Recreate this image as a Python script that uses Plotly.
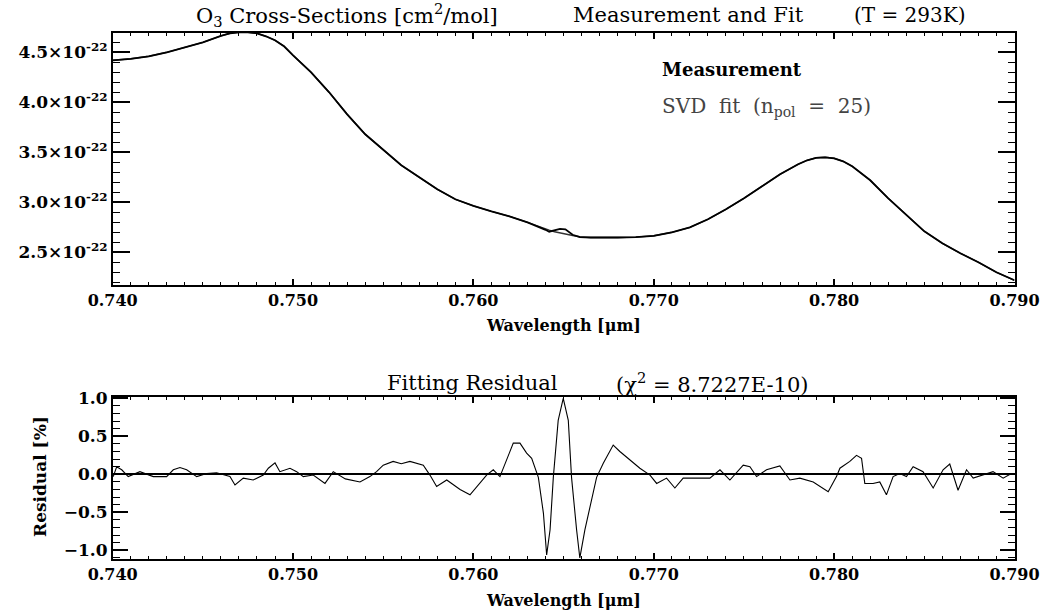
import plotly.graph_objects as go

# ---------------- data ----------------
# Upper panel: O3 cross-sections, in units of 1e-22 cm^2/mol
wavelength_um = [0.7400, 0.7410, 0.7420, 0.7430, 0.7440, 0.7450, 0.7460, 0.7465, 0.7470, 0.7475,
                 0.7480, 0.7485, 0.7490, 0.7495, 0.7500, 0.7510, 0.7520, 0.7530, 0.7540, 0.7550,
                 0.7560, 0.7570, 0.7580, 0.7590, 0.7600, 0.7610, 0.7620, 0.7630, 0.7635, 0.7640,
                 0.7642, 0.7645, 0.7648, 0.7651, 0.7655, 0.7659, 0.7665, 0.7680, 0.7690, 0.7700,
                 0.7710, 0.7720, 0.7730, 0.7740, 0.7750, 0.7760, 0.7770, 0.7780, 0.7785, 0.7790,
                 0.7795, 0.7800, 0.7805, 0.7810, 0.7820, 0.7830, 0.7840, 0.7850, 0.7860, 0.7870,
                 0.7880, 0.7890, 0.7900]
measurement_e22 = [4.420, 4.435, 4.460, 4.500, 4.550, 4.600, 4.665, 4.690, 4.700, 4.700,
                   4.690, 4.660, 4.620, 4.560, 4.470, 4.300, 4.100, 3.880, 3.680, 3.520,
                   3.370, 3.250, 3.130, 3.030, 2.965, 2.910, 2.860, 2.800, 2.765, 2.725,
                   2.706, 2.720, 2.735, 2.730, 2.675, 2.652, 2.648, 2.648, 2.652, 2.665,
                   2.700, 2.750, 2.830, 2.930, 3.040, 3.160, 3.280, 3.380, 3.420, 3.445,
                   3.450, 3.440, 3.410, 3.360, 3.220, 3.040, 2.870, 2.710, 2.590, 2.490,
                   2.400, 2.300, 2.220]
svd_fit_e22 = [4.420, 4.435, 4.460, 4.500, 4.550, 4.600, 4.665, 4.690, 4.700, 4.700,
               4.690, 4.660, 4.620, 4.560, 4.470, 4.300, 4.100, 3.880, 3.680, 3.520,
               3.370, 3.250, 3.130, 3.030, 2.965, 2.910, 2.860, 2.800, 2.765, 2.735,
               2.722, 2.705, 2.692, 2.680, 2.668, 2.655, 2.648, 2.648, 2.652, 2.665,
               2.700, 2.750, 2.830, 2.930, 3.040, 3.160, 3.280, 3.380, 3.420, 3.445,
               3.450, 3.440, 3.410, 3.360, 3.220, 3.040, 2.870, 2.710, 2.590, 2.490,
               2.400, 2.300, 2.220]
y_tick_suffix = "×10<sup>-22</sup>"

# Lower panel: fitting residual [%]
residual_wl_um = [0.74003, 0.74022, 0.74050, 0.74086, 0.74151, 0.74225, 0.74299, 0.74336, 0.74373, 0.74410,
                  0.74466, 0.74521, 0.74576, 0.74650, 0.74678, 0.74724, 0.74779, 0.74835, 0.74863, 0.74900,
                  0.74927, 0.74983, 0.75020, 0.75057, 0.75112, 0.75177, 0.75223, 0.75290, 0.75371, 0.75426,
                  0.75463, 0.75500, 0.75555, 0.75600, 0.75648, 0.75722, 0.75759, 0.75796, 0.75852, 0.75926,
                  0.75981, 0.76018, 0.76073, 0.76110, 0.76147, 0.76184, 0.76221, 0.76258, 0.76295, 0.76323,
                  0.76360, 0.76388, 0.76406, 0.76425, 0.76443, 0.76470, 0.76498, 0.76526, 0.76544, 0.76572,
                  0.76590, 0.76618, 0.76646, 0.76683, 0.76720, 0.76775, 0.76812, 0.76868, 0.76923, 0.76979,
                  0.77016, 0.77071, 0.77117, 0.77163, 0.77237, 0.77311, 0.77367, 0.77422, 0.77496, 0.77533,
                  0.77570, 0.77625, 0.77699, 0.77755, 0.77810, 0.77884, 0.77967, 0.78013, 0.78032, 0.78087,
                  0.78124, 0.78152, 0.78170, 0.78216, 0.78253, 0.78290, 0.78327, 0.78364, 0.78401, 0.78438,
                  0.78493, 0.78549, 0.78604, 0.78641, 0.78687, 0.78734, 0.78771, 0.78826, 0.78881, 0.78937,
                  0.78983]
residual_pct = [-0.03, 0.10, 0.06, -0.03, 0.035, -0.03, -0.03, 0.06, 0.09, 0.06,
                -0.03, 0.01, 0.02, -0.03, -0.14, -0.05, -0.075, -0.01, 0.08, 0.15,
                0.035, 0.08, 0.035, -0.03, -0.01, -0.12, 0.035, -0.06, -0.10, -0.03,
                0.035, 0.12, 0.17, 0.14, 0.17, 0.12, -0.01, -0.16, -0.075, -0.20,
                -0.27, -0.16, -0.01, 0.06, -0.03, 0.19, 0.41, 0.41, 0.28, 0.21,
                -0.04, -0.51, -1.06, -0.73, -0.04, 0.71, 1.00, 0.71, -0.04, -0.73,
                -1.10, -0.73, -0.43, -0.04, 0.145, 0.385, 0.30, 0.19, 0.08, -0.01,
                -0.12, -0.05, -0.18, -0.05, -0.05, -0.05, 0.06, -0.075, 0.12, 0.10,
                -0.03, 0.06, 0.11, -0.075, -0.05, -0.10, -0.23, -0.03, 0.08, 0.17,
                0.25, 0.21, -0.12, -0.12, -0.10, -0.27, -0.03, 0.01, -0.03, 0.10,
                0.035, -0.18, 0.06, 0.135, -0.21, 0.06, -0.05, -0.01, 0.035, -0.05,
                0.01]

# ---------------- figure ----------------
W, H = 1043, 613
SERIF = "DejaVu Serif"

def px(x):
    return x / W

def py(y):
    return 1 - y / H

fig = go.Figure()
fig.add_trace(go.Scatter(x=wavelength_um, y=svd_fit_e22, mode="lines",
                         line=dict(color="#333333", width=1.4), xaxis="x", yaxis="y",
                         showlegend=False, hoverinfo="skip"))
fig.add_trace(go.Scatter(x=wavelength_um, y=measurement_e22, mode="lines",
                         line=dict(color="black", width=1.8), xaxis="x", yaxis="y",
                         showlegend=False))
fig.add_trace(go.Scatter(x=residual_wl_um, y=residual_pct, mode="lines",
                         line=dict(color="black", width=1.1), xaxis="x2", yaxis="y2",
                         showlegend=False))

xtickfont = dict(family=SERIF, size=16, color="black", weight="bold")
ytickfont = dict(family=SERIF, size=17, color="black", weight="bold")
xdom = [px(112.7), px(1014.5)]

common_x = dict(range=[0.740, 0.790], domain=xdom, dtick=0.010, tick0=0.740,
                tickformat=".3f", automargin=False,
                ticks="inside", ticklen=6, tickwidth=1.5, tickcolor="black",
                showline=True, linecolor="black", linewidth=1.6, mirror="allticks",
                showgrid=False, zeroline=False, tickfont=xtickfont,
                minor=dict(dtick=0.001, ticklen=3, tickwidth=1, tickcolor="black",
                           ticks="inside"))

fig.update_layout(
    width=W, height=H, autosize=False,
    margin=dict(l=0, r=0, t=0, b=0, pad=0, autoexpand=False),
    paper_bgcolor="white", plot_bgcolor="white",
    showlegend=False,
    xaxis=dict(**common_x, anchor="y"),
    yaxis=dict(range=[2.173, 4.693], domain=[py(285), py(33)], anchor="x",
               tick0=2.5, dtick=0.5, tickformat=".1f", ticksuffix=y_tick_suffix,
               automargin=False,
               ticks="inside", ticklen=17, tickwidth=1.5, tickcolor="black",
               showline=True, linecolor="black", linewidth=1.6, mirror="allticks",
               showgrid=False, zeroline=False, tickfont=ytickfont,
               minor=dict(dtick=0.1, ticklen=7, tickwidth=1, tickcolor="black",
                          ticks="inside")),
    xaxis2=dict(**common_x, anchor="y2"),
    yaxis2=dict(range=[-1.114, 1.017], domain=[py(559), py(397)], anchor="x2",
                tick0=-1.0, dtick=0.5, tickformat=".1f", automargin=False,
                ticks="inside", ticklen=15, tickwidth=1.5, tickcolor="black",
                showline=True, linecolor="black", linewidth=1.6, mirror="allticks",
                showgrid=False, zeroline=True, zerolinecolor="black", zerolinewidth=1.5,
                tickfont=ytickfont,
                minor=dict(dtick=0.1, ticklen=7, tickwidth=1, tickcolor="black",
                           ticks="inside")),
)

def ann(text, x, y, size, bold=False, xanchor="center", color="black", angle=0):
    fig.add_annotation(text=text, x=px(x), y=py(y), xref="paper", yref="paper",
                       xanchor=xanchor, yanchor="middle", showarrow=False,
                       textangle=angle,
                       font=dict(family=SERIF, size=size, color=color,
                                 weight="bold" if bold else "normal"))

# titles
ann("O<sub>3</sub> Cross-Sections [cm<sup>2</sup>/mol]", 347, 15, 21)
ann("Measurement and Fit", 688, 15, 21)
ann("(T = 293K)", 910, 15, 20)
ann("Fitting Residual", 472, 383, 21)
ann("(χ<sup>2</sup> = 8.7227E-10)", 712, 383, 21)

# legend labels
ann("Measurement", 660, 70, 18, bold=True, xanchor="left")
ann("SVD&nbsp; fit&nbsp; (n<sub>pol</sub>&nbsp; =&nbsp; 25)", 660, 107, 20, xanchor="left", color="#444444")

# axis titles
ann("Wavelength [μm]", 563, 326, 16, bold=True)
ann("Wavelength [μm]", 563, 600, 16, bold=True)
ann("Residual [%]", 40, 477, 17, bold=True, angle=-90)

fig.write_html("out.html", config={"responsive": False})
